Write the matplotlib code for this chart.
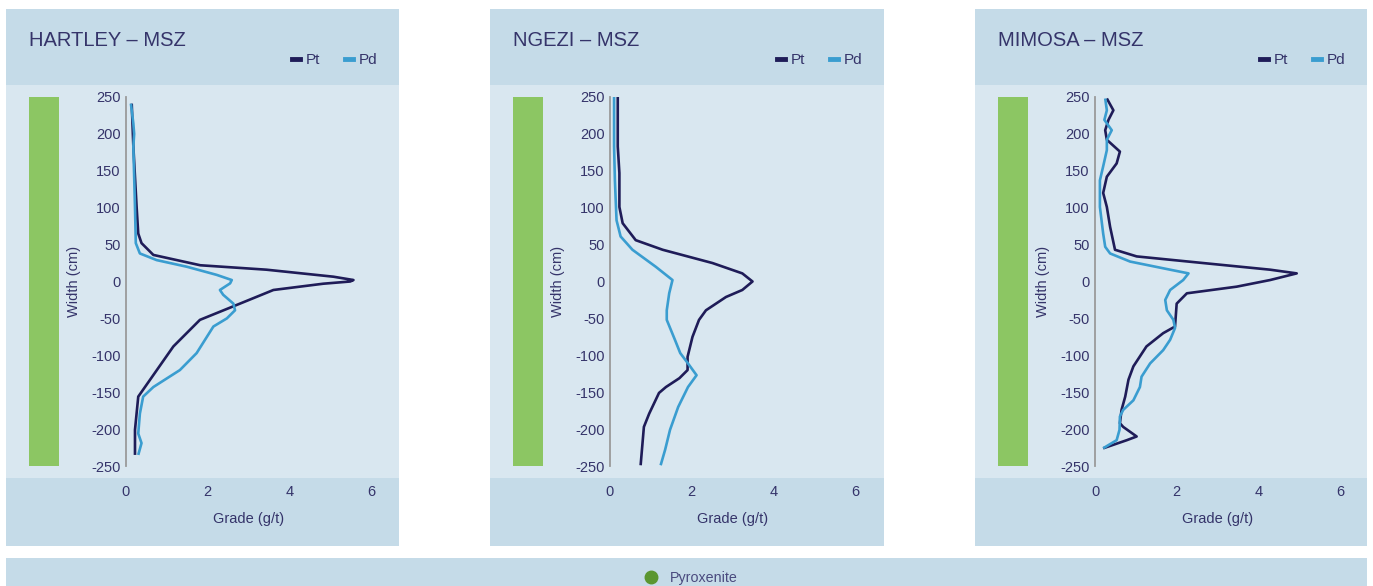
import matplotlib

matplotlib.use("Agg")
import matplotlib.pyplot as plt
from matplotlib.lines import Line2D
from matplotlib.patches import Rectangle

plt.rcParams["font.family"] = ["Liberation Sans", "DejaVu Sans"]
plt.rcParams["axes.unicode_minus"] = False

# ---- data ----
sites = ["HARTLEY – MSZ", "NGEZI – MSZ", "MIMOSA – MSZ"]
y_ticks = [250, 200, 150, 100, 50, 0, -50, -100, -150, -200, -250]
x_ticks = [0, 2, 4, 6]
layer_top = 250
layer_bottom = -250

hartley_pt_grade = [0.14, 0.18, 0.26, 0.30, 0.38, 0.67, 1.82, 3.44, 5.08, 5.57, 5.49, 4.83,
                    3.61, 2.79, 1.81, 1.16, 0.30, 0.22, 0.22]
hartley_pt_width = [241, 183, 101, 65, 52, 36, 22, 16, 6.5, 2, 0, -3,
                    -11.5, -30, -52, -88, -156, -201, -235]
hartley_pd_grade = [0.12, 0.18, 0.20, 0.18, 0.22, 0.24, 0.34, 0.75, 1.49, 2.22, 2.59, 2.55,
                    2.30, 2.38, 2.63, 2.67, 2.47, 2.14, 1.73, 1.32, 0.67, 0.42, 0.34,
                    0.30, 0.38, 0.30]
hartley_pd_width = [241, 214, 200, 183, 101, 52, 38, 29, 20, 9, 2, -2.5,
                    -11.5, -18, -30, -39, -50, -61, -97, -120, -143, -156, -179,
                    -206, -219, -235]

ngezi_pt_grade = [0.19, 0.19, 0.23, 0.23, 0.31, 0.63, 1.29, 2.51, 3.24, 3.49, 3.24, 2.84,
                  2.35, 2.18, 2.02, 1.90, 1.90, 1.70, 1.37, 1.20, 0.96, 0.83, 0.75]
ngezi_pt_width = [250, 183, 147, 101, 79, 56, 43, 25, 11, 0, -11.5, -21,
                  -39, -52, -75, -102, -120, -131, -143, -151, -179, -197, -249]
ngezi_pd_grade = [0.10, 0.10, 0.12, 0.16, 0.26, 0.55, 1.12, 1.53, 1.45, 1.39, 1.39, 1.59,
                  1.72, 1.91, 2.12, 1.91, 1.67, 1.47, 1.35, 1.24]
ngezi_pd_width = [250, 183, 137, 83, 61, 43, 20, 2, -16, -39, -52, -79,
                  -97, -111, -127, -143, -170, -201, -228, -249]

mimosa_pt_grade = [0.29, 0.45, 0.33, 0.25, 0.29, 0.61, 0.53, 0.29, 0.20, 0.29, 0.37, 0.49,
                   1.02, 2.65, 4.29, 4.94, 4.29, 3.47, 2.25, 2.00, 1.96, 1.67, 1.26,
                   0.94, 0.82, 0.74, 0.65, 0.61, 0.69, 1.02, 0.78, 0.20]
mimosa_pt_width = [248, 232, 219, 205, 192, 176, 160, 142, 120, 101, 74, 43,
                   34, 25, 16, 11, 2, -7, -16, -30, -61, -70, -88,
                   -115, -133, -156, -174, -192, -197, -210, -215, -226]
mimosa_pd_grade = [0.25, 0.29, 0.23, 0.41, 0.29, 0.29, 0.20, 0.12, 0.12, 0.16, 0.20, 0.25,
                   0.37, 0.86, 1.84, 2.29, 2.16, 1.84, 1.72, 1.76, 1.92, 1.96, 1.84,
                   1.67, 1.35, 1.14, 1.10, 0.94, 0.69, 0.61, 0.60, 0.53, 0.20]
mimosa_pd_width = [248, 232, 219, 205, 192, 178, 156, 137, 101, 83, 65, 47,
                   38, 27, 16, 11, 2, -11.5, -25, -39, -52, -63, -79,
                   -93, -111, -129, -143, -161, -174, -183, -201, -215, -226]

pt_grades = [hartley_pt_grade, ngezi_pt_grade, mimosa_pt_grade]
pt_widths = [hartley_pt_width, ngezi_pt_width, mimosa_pt_width]
pd_grades = [hartley_pd_grade, ngezi_pd_grade, mimosa_pd_grade]
pd_widths = [hartley_pd_width, ngezi_pd_width, mimosa_pd_width]

# ---- style ----
W, H = 1373, 586
BAND = "#c5dbe8"
INNER = "#d9e7f0"
TEXT = "#35346a"
PT_COLOR = "#1f1c58"
PD_COLOR = "#3a9dd0"
GREEN = "#8cc663"
DOT_GREEN = "#5b9630"

fig = plt.figure(figsize=(W / 100, H / 100), dpi=100)


def fx(px):
    return px / W


def fy(py):
    return 1 - py / H


def rect(x0, y0, x1, y1, color):
    # background bands sit behind the axes
    fig.patches.append(Rectangle((fx(x0), fy(y1)), fx(x1) - fx(x0), fy(y0) - fy(y1),
                                 transform=fig.transFigure, facecolor=color,
                                 edgecolor="none", zorder=-5))


panel_left = [6, 490, 975]
panel_right = [399, 884, 1367]

for i, site in enumerate(sites):
    left = panel_left[i]
    right = panel_right[i]
    rect(left, 9, right, 85, BAND)
    rect(left, 85, right, 478, INNER)
    rect(left, 478, right, 546, BAND)

    fig.text(fx(left + 23), fy(40), site, fontsize=14.5, color=TEXT, va="center", ha="left")

    # green layer column
    axg = fig.add_axes([fx(left + 23), fy(466), fx(30), fy(97) - fy(466)])
    axg.bar([0], [layer_top - layer_bottom], bottom=layer_bottom, width=1.0, color=GREEN)
    axg.set_xlim(-0.5, 0.5)
    axg.set_ylim(layer_bottom, layer_top)
    axg.axis("off")

    ax0 = left + 120
    ax = fig.add_axes([fx(ax0), fy(466), fx(245), fy(97) - fy(466)])
    ax.patch.set_alpha(0)
    ax.plot(pt_grades[i], pt_widths[i], color=PT_COLOR, lw=1.9,
            solid_joinstyle="round", solid_capstyle="butt", label="Pt")
    ax.plot(pd_grades[i], pd_widths[i], color=PD_COLOR, lw=1.9,
            solid_joinstyle="round", solid_capstyle="butt", label="Pd")
    ax.set_xlim(0, 6)
    ax.set_ylim(-250, 250)
    ax.set_xticks(x_ticks)
    ax.set_yticks(y_ticks)
    for s in ["top", "right", "bottom"]:
        ax.spines[s].set_visible(False)
    ax.spines["left"].set_color("#9a9a9a")
    ax.spines["left"].set_linewidth(1.3)
    ax.tick_params(axis="y", length=0, pad=4, labelsize=10.5, labelcolor=TEXT)
    ax.tick_params(axis="x", length=0, pad=14, labelsize=10.5, labelcolor=TEXT)
    ax.set_xlabel("Grade (g/t)", fontsize=10.5, color=TEXT, labelpad=9)
    ax.set_ylabel("Width (cm)", fontsize=10.5, color=TEXT, labelpad=6)
    ax.yaxis.set_label_coords((left + 75 - ax0) / 245, 0.5)

    handles = [Line2D([], [], color=PT_COLOR, lw=3.5), Line2D([], [], color=PD_COLOR, lw=3.5)]
    fig.legend(handles, ["Pt", "Pd"], loc="center right",
               bbox_to_anchor=(fx(right - 22), fy(60)), ncol=2, frameon=False,
               fontsize=11, handlelength=0.55, handletextpad=0.35, columnspacing=1.6,
               labelcolor=TEXT, borderaxespad=0, borderpad=0)

# bottom legend band
rect(6, 558, 1367, 586, BAND)
dot = Line2D([], [], color=DOT_GREEN, marker="o", ls="none", markersize=9)
fig.legend([dot], ["Pyroxenite"], loc="center", bbox_to_anchor=(fx(687), fy(578)),
           frameon=False, fontsize=10.3, labelcolor="#4a4a7e", handletextpad=0.35,
           borderaxespad=0, borderpad=0)

fig.savefig("out.png", dpi=100, facecolor="white")
